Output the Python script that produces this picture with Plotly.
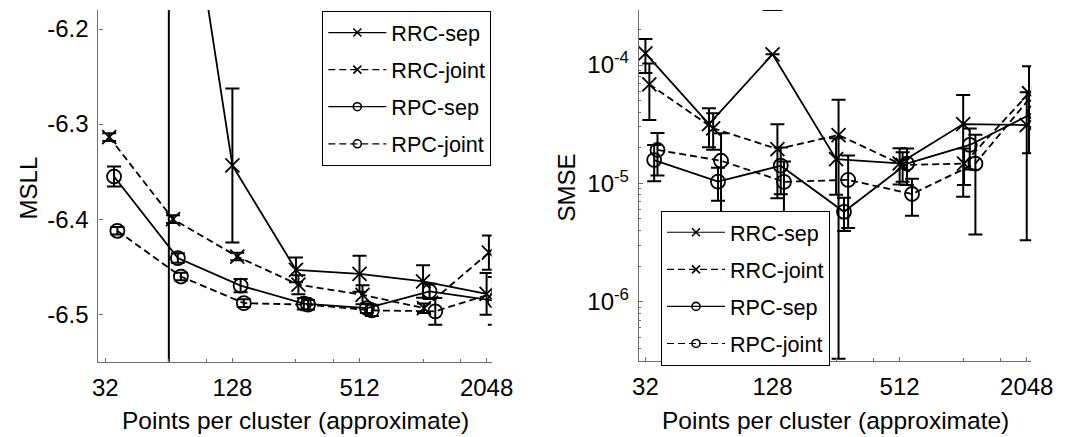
import plotly.graph_objects as go

W, H = 1083, 437

# ---------------- data ----------------
series_names = ["RRC-sep", "RRC-joint", "RPC-sep", "RPC-joint"]

# approximate points per cluster (x positions of each method)
x_rrc_sep = [32, 64, 128, 256, 512, 1024, 2048]
x_rrc_joint = [33.4, 67, 135, 263, 529, 1034, 2100]
x_rpc_sep = [35.2, 70.6, 140, 279, 555, 1100, 2240]
x_rpc_joint = [36.5, 73, 145, 292, 586, 1170, 2340]

# MSLL (left panel)
msll_rrc_sep = [None, -5.91, -6.3435, -6.4534, -6.4575, -6.4656, -6.4786]
msll_rrc_sep_err = [None, 0.8, 0.081, 0.013, 0.019, 0.017, 0.022]
msll_rrc_joint = [-6.3137, -6.400, -6.4394, -6.469, -6.4796, -6.4937, -6.4352]
msll_rrc_joint_err = [0.004, 0.004, 0.004, 0.010, 0.010, 0.005, 0.018]
msll_rpc_sep = [-6.3552, -6.441, -6.4699, -6.489, -6.4937, -6.476, -6.486]
msll_rpc_sep_err = [0.0105, 0.005, 0.007, 0.006, 0.005, 0.008, 0.025]
msll_rpc_joint = [-6.4123, -6.4604, -6.4884, -6.490, -6.496, -6.497, -6.476]
msll_rpc_joint_err = [0.004, 0.004, 0.004, 0.005, 0.006, 0.014, 0.010]

# SMSE (right panel)
smse_rrc_sep = [1.256e-4, 3.17e-5, 1.23e-4, 1.60e-5, 1.476e-5, 3.17e-5, 3.11e-5]
smse_rrc_sep_err = [4.0e-5, 1.15e-5, 1.69e-4, 8.0e-6, 5.0e-6, 2.4e-5, 2.78e-5]
smse_rrc_joint = [6.87e-5, 2.92e-5, 1.95e-5, 2.56e-5, 1.43e-5, 1.47e-5, 5.77e-5]
smse_rrc_joint_err = [3.44e-5, 1.0e-5, 1.2e-5, 2.527e-5, 4.0e-6, 5.0e-6, 3.97e-5]
smse_rpc_sep = [1.574e-5, 1.033e-5, 1.41e-5, 5.75e-6, 1.47e-5, 2.11e-5, 4.0e-5]
smse_rpc_sep_err = [5.3e-6, 3.2e-6, 6.0e-6, 1.8e-6, 5.0e-6, 8.0e-6, 1.0e-5]
smse_rpc_joint = [1.914e-5, 1.552e-5, 1.03e-5, 1.07e-5, 8.13e-6, 1.47e-5, 6.5e-5]
smse_rpc_joint_err = [7.5e-6, 1.1e-5, 5.0e-6, 6.5e-6, 2.8e-6, 1.1e-5, 1.5e-5]

x_tick_vals = [32, 128, 512, 2048]
x_tick_text = ["32", "128", "512", "2048"]
x_minor_vals = [64, 96, 256, 384, 1024, 1536]
msll_tick_vals = [-6.5, -6.4, -6.3, -6.2]
msll_tick_text = ["-6.5", "-6.4", "-6.3", "-6.2"]
smse_tick_vals = [1e-6, 1e-5, 1e-4]
smse_tick_text = ["10<sup>-6</sup>", "10<sup>-5</sup>", "10<sup>-4</sup>"]
smse_minor_vals = [m * 10.0 ** e for e in (-7, -6, -5, -4) for m in range(2, 10)]

x_title = "Points per cluster (approximate)"

# ---------------- styles ----------------
FONT = "Liberation Sans, Arial, Helvetica, sans-serif"
styles = {
    "RRC-sep": dict(dash="solid", symbol="x-thin-open"),
    "RRC-joint": dict(dash="7px,4px", symbol="x-thin-open"),
    "RPC-sep": dict(dash="solid", symbol="circle-open"),
    "RPC-joint": dict(dash="7px,4px", symbol="circle-open"),
}

fig = go.Figure()


def add_panel(xa, ya, xs, ys, errs, legend_name, logy=False):
    for name, x, y, e in zip(series_names, xs, ys, errs):
        st = styles[name]
        # on a log axis, bars whose lower end is <= 0 are only drawn as a top cap
        e_plot = list(e)
        cap_x, cap_y = [], []
        if logy:
            for i, (yy, ee) in enumerate(zip(y, e)):
                if yy is not None and ee is not None and yy - ee <= 0:
                    cap_x.append(x[i])
                    cap_y.append(yy + ee)
                    e_plot[i] = float("nan")
        fig.add_trace(go.Scatter(
            x=x, y=y, mode="lines+markers", xaxis=xa, yaxis=ya,
            line=dict(color="black", width=1.8, dash=st["dash"]),
            marker=dict(symbol=st["symbol"], size=14, color="black",
                        line=dict(color="black", width=1.8)),
            error_y=dict(type="data", array=e_plot, visible=True,
                         color="black", thickness=2, width=7),
            showlegend=False, connectgaps=False,
        ))
        if cap_x:
            fig.add_trace(go.Scatter(
                x=cap_x, y=cap_y, mode="markers", xaxis=xa, yaxis=ya,
                marker=dict(symbol="line-ew-open", size=14, color="black",
                            line=dict(color="black", width=2)),
                showlegend=False,
            ))
        # legend entry (no data)
        fig.add_trace(go.Scatter(
            x=[None], y=[None], mode="lines+markers", xaxis=xa, yaxis=ya,
            name=name, legend=legend_name, legendgroup=legend_name + name,
            line=dict(color="black", width=1.2, dash=st["dash"]),
            marker=dict(symbol=st["symbol"], size=8, color="black",
                        line=dict(color="black", width=1.6)),
        ))


add_panel("x", "y",
          [x_rrc_sep, x_rrc_joint, x_rpc_sep, x_rpc_joint],
          [msll_rrc_sep, msll_rrc_joint, msll_rpc_sep, msll_rpc_joint],
          [msll_rrc_sep_err, msll_rrc_joint_err, msll_rpc_sep_err, msll_rpc_joint_err],
          "legend")
add_panel("x2", "y2",
          [x_rrc_sep, x_rrc_joint, x_rpc_sep, x_rpc_joint],
          [smse_rrc_sep, smse_rrc_joint, smse_rpc_sep, smse_rpc_joint],
          [smse_rrc_sep_err, smse_rrc_joint_err, smse_rpc_sep_err, smse_rpc_joint_err],
          "legend2", logy=True)

AX = "#6e6e6e"


def px(v):
    return v / W


def py(v):
    return 1 - v / H


xcommon = dict(type="log", showline=True, linecolor=AX, linewidth=1.3,
               ticks="inside", ticklen=4, tickcolor=AX, tickwidth=1,
               tickvals=x_tick_vals, ticktext=x_tick_text,
               tickfont=dict(size=24, color="black", family=FONT),
               minor=dict(tickvals=x_minor_vals, ticks="inside", ticklen=3,
                          tickcolor=AX, showgrid=False),
               showgrid=False, zeroline=False, mirror=False, ticklabelstandoff=4)

legend_common = dict(xanchor="left", yanchor="top",
                     bgcolor="white", bordercolor="black", borderwidth=1,
                     font=dict(size=21.6, family=FONT, color="black"),
                     tracegroupgap=6, itemclick=False, itemwidth=58)

fig.update_layout(
    width=W, height=H, margin=dict(l=0, r=0, t=0, b=0),
    paper_bgcolor="white", plot_bgcolor="white",
    font=dict(family=FONT, color="black", size=24),
    xaxis=dict(domain=[px(94), px(498)], range=[1.4729, 3.3353], anchor="y", **xcommon),
    yaxis=dict(domain=[py(361.7), py(10)], range=[-6.55, -6.18], anchor="x",
               showline=True, linecolor=AX, linewidth=1.3, ticks="inside", ticklen=4,
               tickcolor=AX, tickvals=msll_tick_vals, ticktext=msll_tick_text,
               tickfont=dict(size=24, color="black", family=FONT),
               showgrid=False, zeroline=False, ticklabelstandoff=4),
    xaxis2=dict(domain=[px(649.3), px(1052.3)], range=[1.4743, 3.3321], anchor="y2", **xcommon),
    yaxis2=dict(domain=[py(360.7), py(10)], type="log", range=[-6.4985, -3.5353], anchor="x2",
                showline=True, linecolor=AX, linewidth=1.3, ticks="inside", ticklen=4,
                tickcolor=AX, tickvals=smse_tick_vals, ticktext=smse_tick_text,
                tickfont=dict(size=24, color="black", family=FONT),
                minor=dict(tickvals=smse_minor_vals, ticks="inside", ticklen=2,
                           tickcolor=AX, showgrid=False),
                showgrid=False, zeroline=False, ticklabelstandoff=4),
    legend=dict(x=px(324), y=py(11), **legend_common),
    legend2=dict(x=px(672), y=py(210.7), **legend_common),
    annotations=[
        dict(text="MSLL", x=px(23), y=py(188), xref="paper", yref="paper",
             xanchor="center", yanchor="middle",
             textangle=-90, showarrow=False, font=dict(size=24)),
        dict(text="SMSE", x=px(575), y=py(188), xref="paper", yref="paper",
             xanchor="center", yanchor="middle",
             textangle=-90, showarrow=False, font=dict(size=24)),
        dict(text=x_title, x=px(296), y=py(420), xref="paper", yref="paper",
             xanchor="center", yanchor="middle",
             showarrow=False, font=dict(size=24.5)),
        dict(text=x_title, x=px(850.8), y=py(420), xref="paper", yref="paper",
             xanchor="center", yanchor="middle",
             showarrow=False, font=dict(size=24.5)),
    ],
)

fig.write_html("out.html")
